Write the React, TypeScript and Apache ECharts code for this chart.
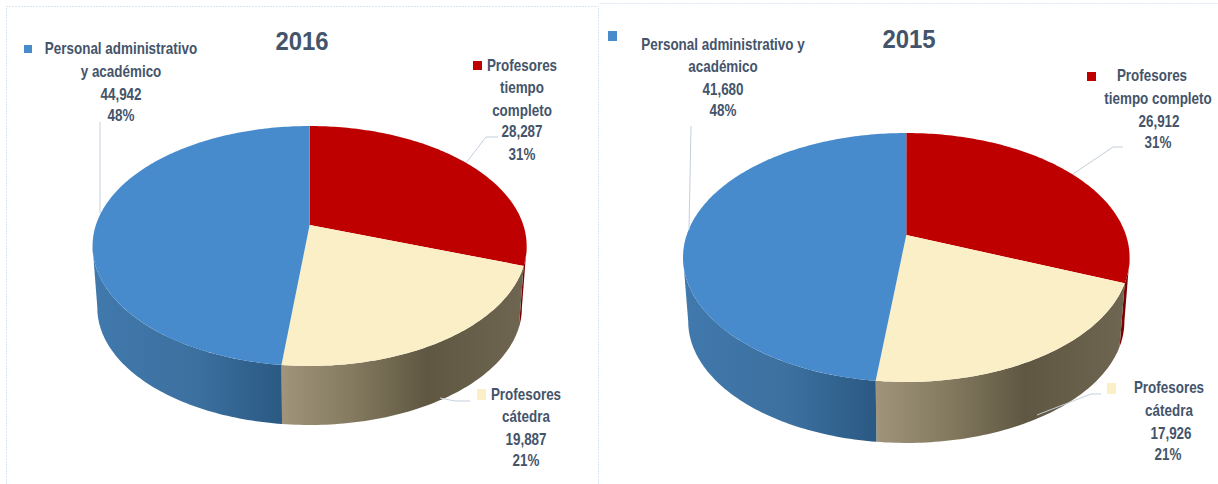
import React, { useEffect, useRef } from "react";
import * as echarts from "echarts";

const titles = ["2016", "2015"];
const categories = ["Profesores tiempo completo", "Profesores cátedra", "Personal administrativo y académico"];
const values2016 = [28287, 19887, 44942];
const values2015 = [26912, 17926, 41680];
const labels2016 = [
  ["Profesores", "tiempo", "completo", "28,287", "31%"],
  ["Profesores", "cátedra", "19,887", "21%"],
  ["Personal administrativo", "y académico", "44,942", "48%"],
];
const labels2015 = [
  ["Profesores", "tiempo completo", "26,912", "31%"],
  ["Profesores", "cátedra", "17,926", "21%"],
  ["Personal administrativo y", "académico", "41,680", "48%"],
];

const TEXT = "#44546a";
const FONT = "'Liberation Sans',sans-serif";
const LEADER = "#c3cfdc";
const topColors = ["#bf0000", "#fbefc8", "#478bcd"];
const grad = (stops: [number, string][]) => ({
  type: "linear", x: 0, y: 0, x2: 1, y2: 0,
  colorStops: stops.map(([offset, color]) => ({ offset, color })),
});
const sideColors = [
  "#7c0000",
  grad([[0, "#a0957a"], [0.3, "#83795f"], [0.6, "#5f5741"], [1, "#6e6650"]]),
  grad([[0, "#4179ad"], [0.55, "#3c709f"], [1, "#2a5983"]]),
];

const geom = [
  { cx: 309.6, top: { a: 213.7, b: 116.3, c: 225 }, low: { a: 209, b: 113.6, c: 287.3 }, k: -0.175 },
  { cx: 906.3, top: { a: 219.6, b: 120.4, c: 235 }, low: { a: 214.5, b: 117.6, c: 299.4 }, k: -0.1807 },
];

const project = (g: any, e: any, deg: number) => {
  const t = (deg * Math.PI) / 180;
  const u = Math.sin(t), v = -Math.cos(t), d = 1 + g.k * v;
  return [g.cx + (e.a * u) / d, e.c + (e.b * v) / d];
};
const arc = (g: any, e: any, from: number, to: number) => {
  const pts: number[][] = [];
  const n = Math.max(2, Math.ceil(to - from));
  for (let i = 0; i <= n; i++) pts.push(project(g, e, from + ((to - from) * i) / n));
  return pts;
};
const spans = (vals: number[]) => {
  const total = vals.reduce((s, x) => s + x, 0);
  let acc = 0;
  return vals.map((x) => {
    const from = (acc / total) * 360;
    acc += x;
    return [from, (acc / total) * 360];
  });
};

const makeSeries = (name: string, vals: number[], g: any) => {
  const sp = spans(vals);
  const data = vals.map((value, i) => ({ name: categories[i], value }));
  // Only the front of the wall shows: between the two silhouette tangents.
  const right = (Math.acos(g.k) * 180) / Math.PI;
  const left = 360 - right;
  return [
    {
      type: "custom", name: name + " lado", coordinateSystem: "none", silent: true, z: 2, data,
      renderItem: (p: any) => {
        const a = Math.max(sp[p.dataIndex][0], right);
        const b = Math.min(sp[p.dataIndex][1], left);
        if (b <= a) return null;
        const points = [...arc(g, g.top, a, b), ...arc(g, g.low, a, b).reverse()];
        return { type: "polygon", shape: { points }, style: { fill: sideColors[p.dataIndex] } };
      },
    },
    {
      type: "custom", name: name + " cara", coordinateSystem: "none", silent: true, z: 3, data,
      renderItem: (p: any) => {
        const [a, b] = sp[p.dataIndex];
        const points = [[g.cx, g.top.c], ...arc(g, g.top, a, b)];
        return { type: "polygon", shape: { points }, style: { fill: topColors[p.dataIndex] } };
      },
    },
  ];
};

const textBlock = (lines: string[], xs: number[], ys: number[]) =>
  lines.map((t, i) => ({
    type: "text", z: 10, x: xs[i], y: ys[i], scaleX: 0.84,
    style: { text: t, fill: TEXT, font: `bold 16px ${FONT}`, textAlign: "center", textVerticalAlign: "middle" },
  }));
const marker = (x: number, y: number, w: number, h: number, fill: string) => ({
  type: "rect", z: 10, shape: { x, y, width: w, height: h }, style: { fill },
});
const leader = (points: number[][]) => ({
  type: "polyline", z: 9, shape: { points }, style: { stroke: LEADER, lineWidth: 1, fill: "none" },
});
const panel = (points: number[][]) => ({
  type: "polyline", z: 1, shape: { points }, style: { stroke: "#dbe5f0", lineWidth: 1, lineDash: [2, 1], fill: "none" },
});
const title = (t: string, x: number, y: number) => ({
  type: "text", z: 10, x, y, scaleX: 0.92,
  style: { text: t, fill: TEXT, font: `bold 26px ${FONT}`, textAlign: "center", textVerticalAlign: "middle" },
});

export default function App() {
  const ref = useRef<HTMLDivElement>(null);
  useEffect(() => {
    const chart = echarts.init(ref.current!, undefined, { renderer: "svg" });
    chart.setOption({
      animation: false,
      backgroundColor: "#ffffff",
      series: [...makeSeries(titles[0], values2016, geom[0]), ...makeSeries(titles[1], values2015, geom[1])],
      graphic: [
        panel([[6.5, 484], [6.5, 6.5], [598.5, 6.5], [598.5, 484]]),
        panel([[599.5, 3.5], [1218, 3.5]]),
        title(titles[0], 302, 41),
        title(titles[1], 909, 39),
        marker(24, 45, 8, 8, topColors[2]),
        marker(473, 61, 9, 9, topColors[0]),
        marker(477, 389, 9, 11, topColors[1]),
        marker(608, 31, 9, 10, topColors[2]),
        marker(1087, 72, 9, 9, topColors[0]),
        marker(1107, 383, 9, 11, topColors[1]),
        ...textBlock(labels2016[2], [121, 121, 121, 121], [49, 72, 95, 116]),
        ...textBlock(labels2016[0], [522, 522, 522, 522, 522], [66, 88, 111, 132, 155]),
        ...textBlock(labels2016[1], [526, 526, 526, 526], [395, 417, 440, 461]),
        ...textBlock(labels2015[2], [723, 723, 723, 723], [45, 67, 90, 111]),
        ...textBlock(labels2015[0], [1152, 1158, 1159, 1158], [76, 99, 122, 143]),
        ...textBlock(labels2015[1], [1169, 1169, 1171, 1168], [388, 411, 434, 455]),
        leader([[100, 122], [100, 213]]),
        leader([[498, 137], [486, 137], [466, 163]]),
        leader([[470, 401], [455, 401], [440, 398]]),
        leader([[691, 126], [689, 230]]),
        leader([[1123, 147], [1113, 147], [1073, 174]]),
        leader([[1101, 394], [1091, 394], [1037, 415]]),
      ],
    });
    return () => chart.dispose();
  }, []);
  return <div ref={ref} style={{ position: "absolute", left: 0, top: 0, width: 1218, height: 484 }} />;
}
